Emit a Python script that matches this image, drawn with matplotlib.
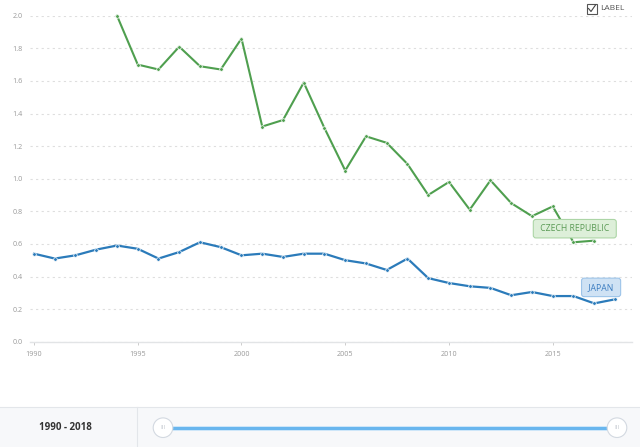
import numpy as np
import matplotlib
matplotlib.use("Agg")
import matplotlib.pyplot as plt
from matplotlib.patches import Rectangle, Circle

plt.rcParams['font.family'] = ['Open Sans', 'DejaVu Sans']
plt.rcParams['lines.scale_dashes'] = False

# data
years_jp = list(range(1990, 2019))
japan = [0.54, 0.51, 0.53, 0.565, 0.59, 0.57, 0.51, 0.55, 0.61, 0.58,
         0.53, 0.54, 0.52, 0.54, 0.54, 0.50, 0.48, 0.44, 0.51, 0.39,
         0.36, 0.34, 0.33, 0.285, 0.305, 0.28, 0.28, 0.235, 0.26]
years_cz = list(range(1994, 2018))
czech = [2.00, 1.70, 1.67, 1.81, 1.69, 1.67, 1.86, 1.32, 1.36, 1.59,
         1.31, 1.05, 1.26, 1.22, 1.09, 0.90, 0.98, 0.81, 0.99, 0.85,
         0.77, 0.83, 0.61, 0.62]
x_ticks = [1990, 1995, 2000, 2005, 2010, 2015]
y_ticks = [0.0, 0.2, 0.4, 0.6, 0.8, 1.0, 1.2, 1.4, 1.6, 1.8, 2.0]
range_label = "1990 - 2018"

green = '#4f9f4f'
blue = '#2b7bba'

W, H = 640, 447
fig = plt.figure(figsize=(W / 100, H / 100), dpi=100)

# overlay in pixel coordinates for the chrome
bg = fig.add_axes([0, 0, 1, 1], zorder=0)
bg.set_xlim(0, W)
bg.set_ylim(H, 0)
bg.axis('off')

# main chart
ax = fig.add_axes([30 / W, (H - 341.7) / H, 602 / W, 326 / H], zorder=2)
ax.patch.set_alpha(0)
ax.plot(years_cz, czech, color=green, lw=1.5, marker='o', ms=2.6,
        mfc=green, mec='white', mew=0.5, clip_on=False, zorder=3)
ax.plot(years_jp, japan, color=blue, lw=1.6, marker='o', ms=2.6,
        mfc=blue, mec='white', mew=0.5, clip_on=False, zorder=3)
ax.set_xlim(1990 - 4 / 20.75, 2018.82)
ax.set_ylim(0, 2.0)
ax.set_xticks(x_ticks)
ax.set_yticks(y_ticks)
ax.set_yticklabels(['%.1f' % v for v in y_ticks])
for s in ['top', 'right', 'left']:
    ax.spines[s].set_visible(False)
ax.spines['bottom'].set_color('#e2e4e6')
ax.spines['bottom'].set_linewidth(1.0)
ax.tick_params(axis='y', length=0, pad=5, labelsize=5.2, labelcolor='#9a9a9a')
ax.tick_params(axis='x', length=2.5, width=0.7, color='#cccccc', pad=4,
               labelsize=5.2, labelcolor='#9a9a9a')
ax.yaxis.grid(True, color='#dedede', lw=0.8, linestyle=(0, (1.6, 2.4)))
ax.set_axisbelow(True)

# series labels
ax.annotate(' CZECH REPUBLIC ', xy=(years_cz[-1], czech[-1]), xytext=(-14, 8.6),
            textcoords='offset points', ha='center', va='center', fontsize=6.2,
            color='#5a9a55', zorder=5,
            bbox=dict(boxstyle='round,pad=0.55,rounding_size=0.3',
                      fc='#ddefd9', ec='#acd5a6', lw=0.8))
ax.annotate(' JAPAN ', xy=(years_jp[-1], japan[-1]), xytext=(-10, 8.6),
            textcoords='offset points', ha='center', va='center', fontsize=6.2,
            color='#3b7cc0', zorder=5,
            bbox=dict(boxstyle='round,pad=0.55,rounding_size=0.3',
                      fc='#cfe2f4', ec='#9dc4e9', lw=0.8))

# LABEL checkbox
bg.add_patch(Rectangle((586.5, 3.5), 10, 10, fc='white', ec='#555555', lw=0.8))
bg.plot([588.5, 591, 595.5], [8.5, 11.5, 5], color='#444444', lw=0.8)
bg.text(600.5, 8.5, 'LABEL', fontsize=6, color='#555555', va='center', ha='left')

# bottom range panel
bg.add_patch(Rectangle((0, 406.5), W, H - 406.5, fc='#f7f8fa', ec='none'))
bg.plot([0, W], [406.5, 406.5], color='#e3e6ea', lw=0.8)
bg.plot([136.5, 136.5], [406.5, H], color='#e3e6ea', lw=0.8)
bg.text(65, 428, range_label, fontsize=7, fontweight='bold', color='#333333',
        ha='center', va='center')
bg.plot([163, 617], [427.7, 427.7], color='#d8ecfb', lw=3.6, solid_capstyle='butt')
bg.plot([163, 617], [427.7, 427.7], color='#69b6ee', lw=2.3, solid_capstyle='butt')
for hx in [163, 617]:
    bg.add_patch(Circle((hx, 427.7), 9.8, fc='white', ec='#d3d9e1', lw=0.8, zorder=4))
    bg.text(hx, 427.9, 'III', fontsize=4.5, color='#c4c9d0', ha='center', va='center',
            zorder=5)

fig.savefig('out.png', dpi=100)
